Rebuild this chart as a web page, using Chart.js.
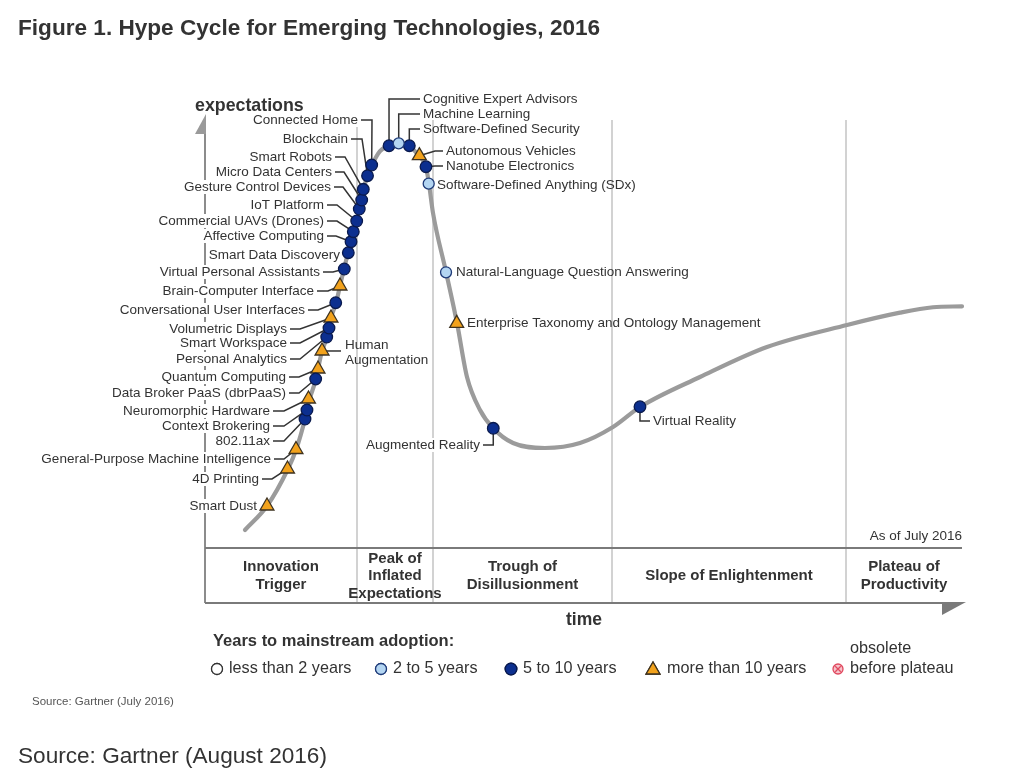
<!DOCTYPE html>
<html><head><meta charset="utf-8">
<script src="https://cdn.jsdelivr.net/npm/chart.js@4.4.0/dist/chart.umd.min.js"></script>
<style>html,body{margin:0;padding:0;background:#fff;overflow:hidden}canvas{display:block}</style>
</head><body>
<canvas id="c" width="1024" height="773"></canvas>
<script>
// ---------- DATA ----------
const curveTime = [5.28, 8.19, 10.96, 12.02, 13.21, 13.47, 13.74, 14.66, 14.93, 15.46, 16.12, 16.38, 16.64, 17.31, 17.83, 18.36, 18.89, 19.29, 19.55, 20.08, 20.34, 20.67, 20.94, 21.47, 22.06, 23.12, 24.31, 25.63, 26.95, 28.27, 29.19, 29.59, 30.12, 31.84, 33.29, 34.61, 36.33, 38.04, 40.69, 44.91, 49.54, 53.90, 57.46, 65.39, 74.24, 84.81, 91.81, 96.17, 100];
const curveExpect = [4.0, 9.33, 17.56, 21.78, 28.67, 30.67, 32.67, 37.56, 39.78, 43.78, 46.89, 48.89, 51.11, 54.44, 58.22, 62.0, 65.56, 68.0, 70.22, 72.67, 75.33, 77.33, 79.78, 82.67, 85.11, 88.2, 89.33, 90.0, 89.33, 87.11, 84.67, 80.89, 74.44, 61.33, 50.0, 38.0, 30.67, 26.67, 23.33, 22.22, 23.33, 26.89, 31.33, 38.0, 44.67, 49.56, 52.3, 53.5, 53.7];

const techNames = ['Smart Dust','4D Printing','General-Purpose Machine Intelligence','802.11ax','Context Brokering','Neuromorphic Hardware','Data Broker PaaS (dbrPaaS)','Quantum Computing','Human Augmentation','Personal Analytics','Smart Workspace','Volumetric Displays','Conversational User Interfaces','Brain-Computer Interface','Virtual Personal Assistants','Smart Data Discovery','Affective Computing','Commercial UAVs (Drones)','IoT Platform','Gesture Control Devices','Micro Data Centers','Smart Robots','Blockchain','Connected Home','Cognitive Expert Advisors','Machine Learning','Software-Defined Security','Autonomous Vehicles','Nanotube Electronics','Software-Defined Anything (SDx)','Natural-Language Question Answering','Enterprise Taxonomy and Ontology Management','Augmented Reality','Virtual Reality'];
const techTime = [8.19, 10.90, 12.02, 13.21, 13.47, 13.67, 14.62, 14.93, 15.46, 16.08, 16.38, 16.64, 17.27, 17.83, 18.40, 18.93, 19.29, 19.59, 20.04, 20.38, 20.70, 20.91, 21.47, 22.02, 24.31, 25.59, 26.99, 28.31, 29.19, 29.55, 31.84, 33.25, 38.08, 57.46];
const techExpect = [9.33, 17.56, 21.89, 28.67, 30.67, 33.11, 37.56, 39.78, 43.78, 46.89, 48.89, 51.11, 54.51, 58.22, 62.0, 65.62, 68.07, 70.29, 72.67, 75.33, 77.33, 79.71, 82.73, 85.11, 89.4, 89.93, 89.4, 87.18, 84.73, 80.96, 61.27, 49.93, 26.6, 31.4];
const techYears = ['10+','10+','10+','5-10','5-10','10+','5-10','10+','10+','5-10','5-10','10+','5-10','10+','5-10','5-10','5-10','5-10','5-10','5-10','5-10','5-10','5-10','5-10','5-10','2-5','5-10','10+','5-10','2-5','2-5','10+','5-10','5-10'];

const yearClasses = ['<2','2-5','5-10','10+','obsolete'];
const yearLabels = ['less than 2 years','2 to 5 years','5 to 10 years','more than 10 years','before plateau'];
const phaseNames = [['Innovation','Trigger'],['Peak of','Inflated','Expectations'],['Trough of','Disillusionment'],['Slope of Enlightenment'],['Plateau of','Productivity']];
const phaseBounds = [20.08, 30.12, 53.76, 84.68];

// ---------- STYLES / LAYOUT ----------
const FONT = '"Liberation Sans", Arial, Helvetica, sans-serif';
const TXT = '#333333';
const styleFor = {
  '<2':   {pointStyle:'circle', radius:5.5, bg:'#ffffff', border:'#333333'},
  '2-5':  {pointStyle:'circle', radius:5.5, bg:'#b3d5f2', border:'#1e3a78'},
  '5-10': {pointStyle:'circle', radius:5.8, bg:'#0c2f8f', border:'#0a1a4d'},
  '10+':  {pointStyle:'triangle', radius:8, bg:'#f2a21c', border:'#3d3220'},
  'obsolete': {pointStyle:'crossRot', radius:5, bg:'#f6c3cb', border:'#e0485e'}
};
// label anchors in page pixels: a = align, k = kink x of leader, lead = leader type
const labelLayout = {
  'Connected Home': {x:358,y:120,a:'right',k:372},
  'Blockchain': {x:348,y:139,a:'right',k:362},
  'Smart Robots': {x:332,y:157,a:'right',k:345},
  'Micro Data Centers': {x:332,y:172,a:'right',k:344},
  'Gesture Control Devices': {x:331,y:187,a:'right',k:343},
  'IoT Platform': {x:324,y:205,a:'right',k:337},
  'Commercial UAVs (Drones)': {x:324,y:221,a:'right',k:337},
  'Affective Computing': {x:324,y:236,a:'right',k:336},
  'Smart Data Discovery': {x:340,y:255,a:'right'},
  'Virtual Personal Assistants': {x:320,y:272,a:'right',k:333},
  'Brain-Computer Interface': {x:314,y:291,a:'right',k:328},
  'Conversational User Interfaces': {x:305,y:310,a:'right',k:318},
  'Volumetric Displays': {x:287,y:329,a:'right',k:300},
  'Smart Workspace': {x:287,y:343,a:'right',k:300},
  'Personal Analytics': {x:287,y:359,a:'right',k:300},
  'Quantum Computing': {x:286,y:377,a:'right',k:299},
  'Data Broker PaaS (dbrPaaS)': {x:286,y:393,a:'right',k:299},
  'Neuromorphic Hardware': {x:270,y:411,a:'right',k:284},
  'Context Brokering': {x:270,y:426,a:'right',k:284},
  '802.11ax': {x:270,y:441,a:'right',k:284},
  'General-Purpose Machine Intelligence': {x:271,y:459,a:'right',k:284},
  '4D Printing': {x:259,y:479,a:'right',k:272},
  'Smart Dust': {x:257,y:506,a:'right'},
  'Human Augmentation': {x:345,y:345,a:'left',lead:'horiz',lines:['Human','Augmentation']},
  'Cognitive Expert Advisors': {x:423,y:99,a:'left',lead:'up'},
  'Machine Learning': {x:423,y:114,a:'left',lead:'up'},
  'Software-Defined Security': {x:423,y:129,a:'left',lead:'up'},
  'Autonomous Vehicles': {x:446,y:151,a:'left',lead:'right',k:435},
  'Nanotube Electronics': {x:446,y:166,a:'left',lead:'right',k:435},
  'Software-Defined Anything (SDx)': {x:437,y:185,a:'left',lead:'none'},
  'Natural-Language Question Answering': {x:456,y:272,a:'left',lead:'none'},
  'Enterprise Taxonomy and Ontology Management': {x:467,y:323,a:'left',lead:'none'},
  'Augmented Reality': {x:480,y:445,a:'right',lead:'elbowUp'},
  'Virtual Reality': {x:653,y:421,a:'left',lead:'downRight'}
};

// ---------- DATASETS ----------
const curveData = curveTime.map((t,i)=>({x:t,y:curveExpect[i]}));
const markerSets = yearClasses.map(cls => {
  const s = styleFor[cls];
  const pts = [];
  techNames.forEach((n,i)=>{ if (techYears[i]===cls) pts.push({x:techTime[i], y:techExpect[i], name:n}); });
  return {
    label: cls, data: pts, type:'scatter', order: 0,
    pointStyle: s.pointStyle, pointRadius: s.radius, pointHoverRadius: s.radius,
    backgroundColor: s.bg, borderColor: s.border, pointBorderWidth: 1.3, clip: false
  };
});

function text(ctx, s, x, y, font, color, align, bg) {
  ctx.font = font; ctx.textAlign = align; ctx.textBaseline = 'middle';
  if (bg) {
    const w = ctx.measureText(s).width;
    const left = align==='right' ? x-w : (align==='center' ? x-w/2 : x);
    ctx.fillStyle = '#fff'; ctx.fillRect(left-1, y-7, w+2, 14);
  }
  ctx.fillStyle = color; ctx.fillText(s, x, y);
}
function drawMarker(ctx, cls, x, y) {
  const s = styleFor[cls];
  ctx.save();
  ctx.lineWidth = 1.3; ctx.fillStyle = s.bg; ctx.strokeStyle = s.border;
  if (cls === 'obsolete') {
    ctx.beginPath(); ctx.arc(x,y,s.radius,0,Math.PI*2); ctx.fill(); ctx.stroke();
    const d = s.radius*0.55;
    ctx.beginPath(); ctx.moveTo(x-d,y-d); ctx.lineTo(x+d,y+d); ctx.moveTo(x+d,y-d); ctx.lineTo(x-d,y+d); ctx.stroke();
  } else {
    Chart.helpers.drawPoint(ctx, {pointStyle:s.pointStyle, radius:s.radius, borderWidth:1.3}, x, y);
    ctx.fill(); ctx.stroke();
  }
  ctx.restore();
}

const hypePlugin = {
  id: 'hype',
  beforeDatasetsDraw(chart) {
    const ctx = chart.ctx, xs = chart.scales.x, ys = chart.scales.y;
    const ca = chart.chartArea;
    const boxTop = ca.bottom, boxBot = ca.bottom + 55;
    ctx.save();
    // Title
    text(ctx, 'Figure 1. Hype Cycle for Emerging Technologies, 2016', 18, 29, 'bold 22.6px ' + FONT, '#333', 'left');
    // phase dividers
    ctx.strokeStyle = '#d2d2d2'; ctx.lineWidth = 2;
    phaseBounds.forEach(b => {
      const px = Math.round(xs.getPixelForValue(b));
      ctx.beginPath(); ctx.moveTo(px, 120); ctx.lineTo(px, boxBot); ctx.stroke();
    });
    // vertical axis
    const ax = ca.left;
    ctx.strokeStyle = '#8c8c8c'; ctx.lineWidth = 2;
    ctx.beginPath(); ctx.moveTo(ax, 132); ctx.lineTo(ax, boxBot); ctx.stroke();
    ctx.fillStyle = '#9a9a9a';
    ctx.beginPath(); ctx.moveTo(ax+1, 114); ctx.lineTo(ax+1, 134); ctx.lineTo(ax-10, 134); ctx.closePath(); ctx.fill();
    // box lines
    ctx.strokeStyle = '#7a7a7a'; ctx.lineWidth = 2;
    ctx.beginPath(); ctx.moveTo(ax, boxTop); ctx.lineTo(ca.right, boxTop); ctx.stroke();
    ctx.beginPath(); ctx.moveTo(ax, boxBot); ctx.lineTo(ca.right-18, boxBot); ctx.stroke();
    ctx.fillStyle = '#7a7a7a';
    ctx.beginPath(); ctx.moveTo(ca.right-20, boxBot-1); ctx.lineTo(ca.right+4, boxBot-1); ctx.lineTo(ca.right-20, boxBot+12); ctx.closePath(); ctx.fill();
    // axis titles
    text(ctx, 'expectations', 195, 106, 'bold 17.8px ' + FONT, '#333', 'left');
    text(ctx, 'time', 584, 620, 'bold 17.5px ' + FONT, '#333', 'center');
    text(ctx, 'As of July 2016', ca.right, 536, '13.5px ' + FONT, TXT, 'right');
    // phase names
    const edges = [0].concat(phaseBounds, [100]);
    phaseNames.forEach((lines, i) => {
      const cx = (xs.getPixelForValue(edges[i]) + xs.getPixelForValue(edges[i+1]))/2;
      const lh = 17.5, mid = (boxTop + boxBot)/2 + 0.5;
      lines.forEach((ln, j) => {
        const y = mid + (j - (lines.length-1)/2) * lh;
        text(ctx, ln, cx, y, 'bold 15px ' + FONT, '#333', 'center');
      });
    });
    // labels + leaders
    const lf = '13.5px ' + FONT;
    techNames.forEach((n, i) => {
      const L = labelLayout[n]; if (!L) return;
      const mx = xs.getPixelForValue(techTime[i]), my = ys.getPixelForValue(techExpect[i]);
      const lead = L.lead || (L.k ? 'left' : 'none');
      if (L.lines) {
        L.lines.forEach((ln, j) => text(ctx, ln, L.x, L.y + j*15, lf, TXT, 'left'));
      } else {
        text(ctx, n, L.x, L.y, lf, TXT, L.a, L.a === 'right');
      }
      ctx.strokeStyle = '#333'; ctx.lineWidth = 1.5; ctx.beginPath();
      if (lead === 'left') {
        ctx.moveTo(L.x + 3, L.y); ctx.lineTo(L.k, L.y); ctx.lineTo(mx, my);
      } else if (lead === 'up') {
        ctx.moveTo(mx, my); ctx.lineTo(mx, L.y); ctx.lineTo(L.x - 3, L.y);
      } else if (lead === 'right') {
        ctx.moveTo(mx, my); ctx.lineTo(L.k, L.y); ctx.lineTo(L.x - 3, L.y);
      } else if (lead === 'elbowUp') {
        ctx.moveTo(L.x + 3, L.y); ctx.lineTo(mx, L.y); ctx.lineTo(mx, my);
      } else if (lead === 'downRight') {
        ctx.moveTo(mx, my); ctx.lineTo(mx, L.y); ctx.lineTo(L.x - 3, L.y);
      } else if (lead === 'horiz') {
        ctx.moveTo(mx, my); ctx.lineTo(L.x - 4, my);
      }
      ctx.stroke();
    });
    // legend
    text(ctx, 'Years to mainstream adoption:', 213, 641, 'bold 16.5px ' + FONT, '#333', 'left');
    const legX = [217, 381, 511, 653, 838];
    const legF = '16.2px ' + FONT;
    yearClasses.forEach((cls, i) => {
      drawMarker(ctx, cls, legX[i], cls === '10+' ? 670 : 669);
      text(ctx, yearLabels[i], legX[i] + (cls === '10+' ? 14 : 12), 669, legF, '#333', 'left');
    });
    text(ctx, 'obsolete', 850, 649, legF, '#333', 'left');
    // sources
    text(ctx, 'Source: Gartner (July 2016)', 32, 702, '11.5px ' + FONT, '#555', 'left');
    text(ctx, 'Source: Gartner (August 2016)', 18, 757, '22.6px ' + FONT, '#333', 'left');
    ctx.restore();
  }
};

new Chart(document.getElementById('c'), {
  type: 'scatter',
  data: {
    datasets: [
      { type:'line', label:'curve', data: curveData, borderColor:'#9b9b9b', borderWidth:4.2,
        pointRadius:0, cubicInterpolationMode:'monotone', fill:false, order: 10, clip:false, borderCapStyle:'round' }
    ].concat(markerSets)
  },
  options: {
    responsive: false, animation: false, devicePixelRatio: 1,
    layout: { padding: { left: 205, right: 62, top: 98, bottom: 225 } },
    plugins: { legend: { display: false }, tooltip: { enabled: false } },
    scales: {
      x: { type:'linear', min:0, max:100, display:false },
      y: { type:'linear', min:0, max:100, display:false }
    }
  },
  plugins: [hypePlugin]
});
</script>
</body></html>
